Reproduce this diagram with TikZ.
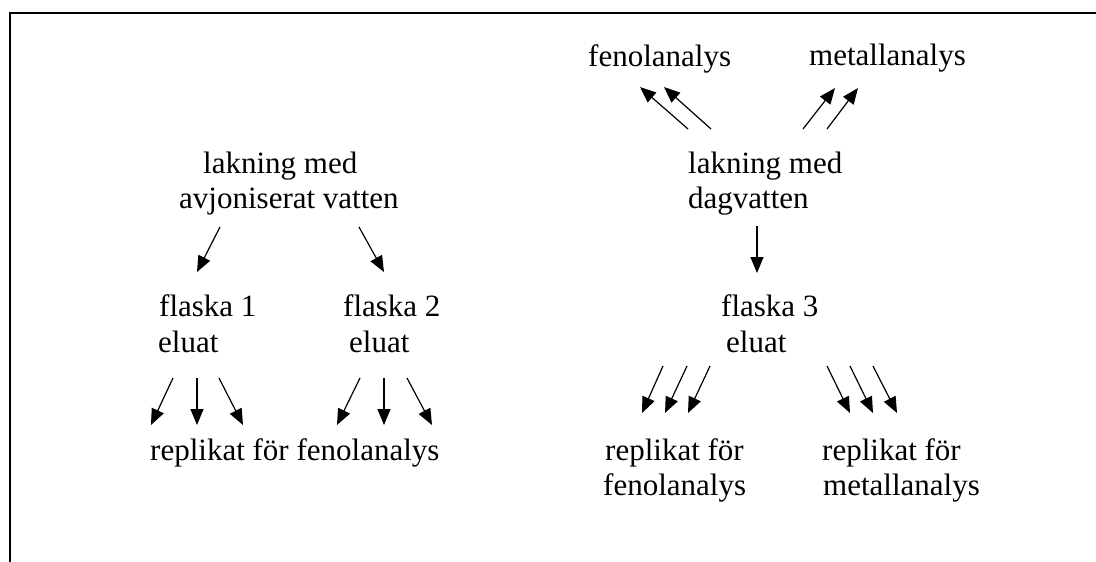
\documentclass[tikz,border=0pt]{standalone}
\usepackage{fontspec}
\setmainfont{Liberation Serif}
\usetikzlibrary{arrows.meta}
\begin{document}
\begin{tikzpicture}[x=1pt,y=-1pt,
  txt/.style={inner sep=0pt, anchor=base west, font=\fontsize{31}{36}\selectfont},
  arr/.style={line width=1.2pt, -{Triangle[length=16pt,width=13pt]}},
  frame/.style={line width=2pt}]
\useasboundingbox (0,0) rectangle (1096,562);
\coordinate (fb) at (10,562);
\coordinate (fc) at (10,13);
\coordinate (fr) at (1096,13);
\draw[frame] (fb) -- (fc) -- (fr);
% left tree
\node[txt] (l1a) at (203,173) {lakning med};
\node[txt] (l1b) at (179,208) {avjoniserat vatten};
\node[txt] (f1a) at (159,316) {flaska 1};
\node[txt] (f1b) at (158,352) {eluat};
\node[txt] (f2a) at (343,316) {flaska 2};
\node[txt] (f2b) at (349,352) {eluat};
\node[txt] (rep) at (150,460) {replikat för fenolanalys};
% right tree
\node[txt] (fen) at (588,66) {fenolanalys};
\node[txt] (met) at (809,65) {metallanalys};
\node[txt] (l2a) at (688,173) {lakning med};
\node[txt] (l2b) at (688,208) {dagvatten};
\node[txt] (f3a) at (721,316) {flaska 3};
\node[txt] (f3b) at (726,352) {eluat};
\node[txt] (r3a) at (605,460) {replikat för};
\node[txt] (r3b) at (603,495) {fenolanalys};
\node[txt] (r4a) at (822,460) {replikat för};
\node[txt] (r4b) at (823,495) {metallanalys};
% arrows
\foreach \n/\x/\y/\u/\v in {
  a1/220/227/197/272, a2/359/227/384/272,
  b1/173/378/151/425, b2/197/378/197/425, b3/219/378/243/425,
  c1/360/378/337/425, c2/384/378/384/425, c3/407/378/432/425,
  d1/688/129/640/87, d2/711/129/664/87,
  e1/803/129/835/88, e2/827/129/858/88,
  g1/757/226/757/273,
  h1/663/366/642/413, h2/687/366/665/413, h3/710/366/688/413,
  k1/827/366/850/413, k2/850/366/873/413, k3/873/366/897/413}
{
  \coordinate (t\n) at (\x,\y);
  \coordinate (h\n) at (\u,\v);
  \draw[arr] (t\n) -- (h\n);
}
\end{tikzpicture}
\end{document}
